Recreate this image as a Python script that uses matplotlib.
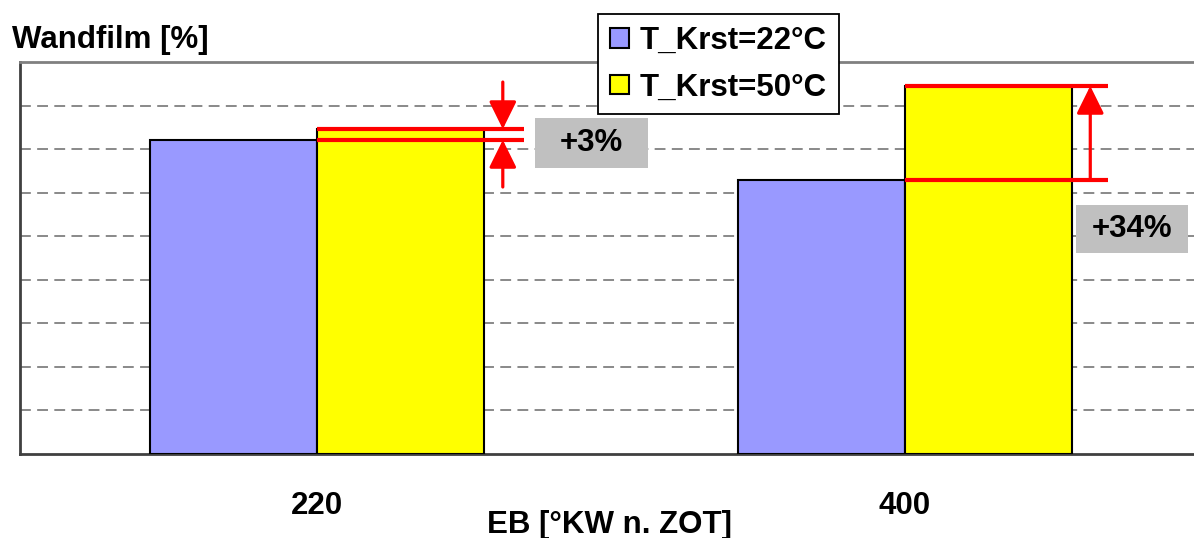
import matplotlib
matplotlib.use("Agg")
import matplotlib.pyplot as plt
import numpy as np
from matplotlib.patches import Patch, Rectangle

plt.rcParams['font.family'] = ['Liberation Sans', 'DejaVu Sans']
plt.rcParams['font.weight'] = 'bold'

categories = ["220", "400"]
series_names = ["T_Krst=22°C", "T_Krst=50°C"]
vals_22 = [7.21, 6.29]
vals_50 = [7.46, 8.45]
change_labels = ["+3%", "+34%"]
y_label = "Wandfilm [%]"
x_label = "EB [°KW n. ZOT]"

FS = 22.5
W, H = 1194, 538
fig = plt.figure(figsize=(W / 100, H / 100), dpi=100)
ax = fig.add_axes([20 / W, (H - 454) / H, 1182 / W, 392 / H])

x = np.arange(len(categories))
bw = 0.284
c_blue = "#9999FF"
c_yel = "#FFFF00"
ax.bar(x - bw / 2, vals_22, bw, color=c_blue, edgecolor="black", linewidth=1.5, zorder=3)
ax.bar(x + bw / 2, vals_50, bw, color=c_yel, edgecolor="black", linewidth=1.5, zorder=3)

ax.set_xlim(-0.505, 1.505)
ax.set_ylim(0, 9)
ax.set_yticks(np.arange(1, 9))
ax.yaxis.grid(True, color="#808080", linestyle=(0, (6, 3.5)), linewidth=1.3, zorder=1)
ax.tick_params(axis="y", left=False, labelleft=False)
ax.set_xticks(x)
ax.set_xticklabels(categories, fontsize=FS, fontweight="bold")
ax.tick_params(axis="x", bottom=False, pad=23)

for s in ["left", "bottom"]:
    ax.spines[s].set_color("#404040")
    ax.spines[s].set_linewidth(2)
ax.spines["top"].set_color("#808080")
ax.spines["top"].set_linewidth(2)
ax.spines["right"].set_color("#808080")
ax.spines["right"].set_linewidth(2)

ax.set_xlabel(x_label, fontsize=FS, fontweight="bold", va="center")
ax.xaxis.set_label_coords(0.499, -0.18)

fig.text(12 / W, 1 - 40 / H, y_label, fontsize=FS, fontweight="bold", va="center", ha="left")

red = "#FF0000"
astyle = "-|>,head_length=0.85,head_width=0.42"
# group 220 : red level lines + two inward arrows
i = 0
for v in (vals_22[i], vals_50[i]):
    ax.plot([i + 0.0, i + 0.352], [v, v], color=red, lw=3, zorder=5, solid_capstyle="butt")
ax.annotate("", xy=(i + 0.316, vals_50[i]), xytext=(i + 0.316, 8.54),
            arrowprops=dict(arrowstyle=astyle, color=red, lw=2.3, shrinkA=0, shrinkB=0, mutation_scale=20), zorder=6)
ax.annotate("", xy=(i + 0.316, vals_22[i]), xytext=(i + 0.316, 6.13),
            arrowprops=dict(arrowstyle=astyle, color=red, lw=2.3, shrinkA=0, shrinkB=0, mutation_scale=20), zorder=6)
ax.add_patch(Rectangle((i + 0.371, 6.57), 0.192, 1.14, facecolor="#C0C0C0", edgecolor="none", zorder=4, clip_on=False))
ax.text(i + 0.467, 7.14, change_labels[i], fontsize=FS, fontweight="bold", ha="center", va="center", zorder=7)

# group 400 : red level lines + one upward arrow
i = 1
for v in (vals_22[i], vals_50[i]):
    ax.plot([i + 0.0, i + 0.345], [v, v], color=red, lw=3, zorder=5, solid_capstyle="butt")
ax.annotate("", xy=(i + 0.315, vals_50[i]), xytext=(i + 0.315, vals_22[i]),
            arrowprops=dict(arrowstyle=astyle, color=red, lw=2.3, shrinkA=0, shrinkB=0, mutation_scale=20), zorder=6)
ax.add_patch(Rectangle((i + 0.291, 4.61), 0.191, 1.11, facecolor="#C0C0C0", edgecolor="none", zorder=4, clip_on=False))
ax.text(i + 0.3865, 5.165, change_labels[i], fontsize=FS, fontweight="bold", ha="center", va="center", zorder=7)

handles = [Patch(facecolor=c_blue, edgecolor="black", linewidth=1.5),
           Patch(facecolor=c_yel, edgecolor="black", linewidth=1.5)]
leg = fig.legend(handles, series_names, loc="upper left",
                 bbox_to_anchor=(598 / W, 1 - 14 / H),
                 prop=dict(weight="bold", size=FS),
                 handlelength=0.6, handleheight=0.6, handletextpad=0.35,
                 labelspacing=0.53, borderpad=0.38, borderaxespad=0,
                 fancybox=False, framealpha=1, edgecolor="black")
leg.get_frame().set_linewidth(1.3)

fig.savefig("out.png", dpi=100)
